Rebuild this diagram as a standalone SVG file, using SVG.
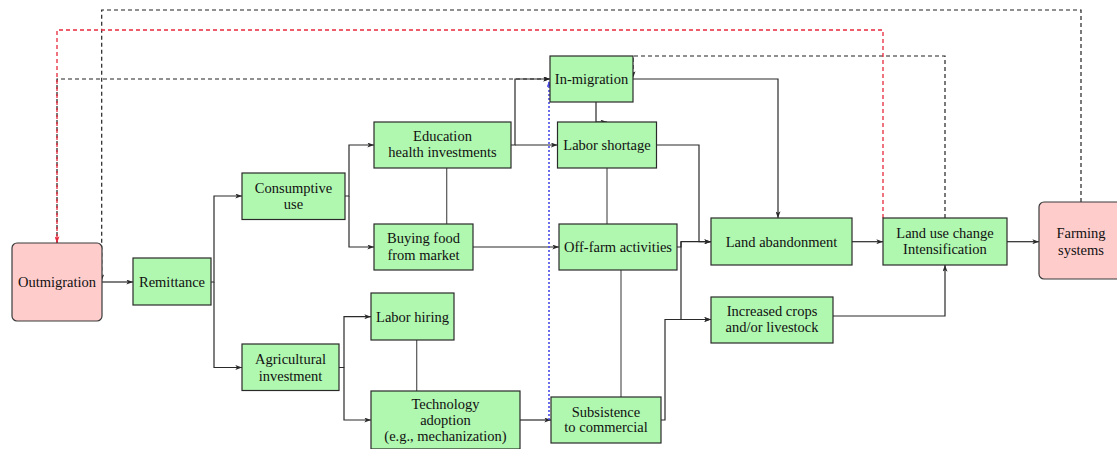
<svg xmlns="http://www.w3.org/2000/svg" width="1117" height="449" viewBox="0 0 1117 449">
<style>
.g rect{fill:#b0f7b0;stroke:#2a2a2a;stroke-width:1.2}
.p rect{fill:#ffcccc;stroke:#3a3a3a;stroke-width:1.2}
text{font-family:"Liberation Serif","DejaVu Serif",serif;font-size:14.5px;fill:#111;text-anchor:middle}
.c path{fill:none;stroke:#2a2a2a;stroke-width:1.2}
.c path.a{marker-end:url(#arr)}
.c path.pl{stroke:#555}
.c path.dk{stroke:#222;stroke-dasharray:4 3;marker-end:url(#arrk)}
.c path.rd{stroke:#e8283c;stroke-width:1.3;stroke-dasharray:4 3;marker-end:url(#arrr)}
.c path.bl{stroke:#4a4ae8;stroke-width:1.6;stroke-dasharray:2 2;marker-end:url(#arrb)}
</style>
<defs>
<marker id="arr" viewBox="0 0 8 6" refX="8" refY="3" markerWidth="7" markerHeight="5" markerUnits="userSpaceOnUse" orient="auto"><path d="M0,0 L8,3 L0,6 L2,3 z" fill="#2a2a2a"/></marker>
<marker id="arrk" viewBox="0 0 8 6" refX="8" refY="3" markerWidth="7" markerHeight="5" markerUnits="userSpaceOnUse" orient="auto"><path d="M0,0 L8,3 L0,6 L2,3 z" fill="#222"/></marker>
<marker id="arrr" viewBox="0 0 8 6" refX="8" refY="3" markerWidth="7" markerHeight="5" markerUnits="userSpaceOnUse" orient="auto"><path d="M0,0 L8,3 L0,6 L2,3 z" fill="#e8283c"/></marker>
<marker id="arrb" viewBox="0 0 8 6" refX="8" refY="3" markerWidth="7" markerHeight="5" markerUnits="userSpaceOnUse" orient="auto"><path d="M0,0 L8,3 L0,6 L2,3 z" fill="#4a4ae8"/></marker>
</defs>
<rect width="1117" height="449" fill="#ffffff"/>

<g class="c" id="connectors">
<path class="a" d="M102,282 H133"/>
<path class="a" d="M211,282 H214 V196 H242"/>
<path class="a" d="M214,282 V367.5 H242"/>
<path class="a" d="M345,196 H349 V145 H374"/>
<path class="a" d="M349,196 V247 H374"/>
<path class="a" d="M339,367.5 H344 V316.7 H371"/>
<path class="a" d="M344,367.5 V420 H371"/>
<path class="a" d="M511,145 H515 V79 H550"/>
<path class="a" d="M515,145 H557.5"/>
<path class="a" d="M473,247 H559"/>
<path class="a" d="M520,420 H551"/>
<path class="a" d="M596,102 V122 H607"/>
<path class="a" d="M633,79 H778 V218"/>
<path class="a" d="M656.5,145 H699 V241.7 H711"/>
<path class="a" d="M677,247 H681 V241.7 H711"/>
<path class="a" d="M681,241.7 V319.5 H711"/>
<path class="a" d="M661,420 H665 V319.5 H711"/>
<path class="a" d="M852,241.7 H883"/>
<path class="a" d="M833,316 H945 V265"/>
<path class="a" d="M1007,241.7 H1039"/>
<path class="pl" d="M446.7,168 V224"/>
<path class="pl" d="M416.7,340 V391"/>
<path class="pl" d="M607,168 V224"/>
<path class="pl" d="M621,270 V397"/>
<path class="dk" d="M1081,202 V10 H101.7 V281"/>
<path class="dk" d="M945,218 V56 H633 V78"/>
<path class="dk" d="M57,243 V79 H550"/>
<path class="rd" d="M883,218 V30 H57 V243"/>
<path class="bl" d="M549,420 V81"/>
</g>

<g id="outmigration" class="p"><rect x="12" y="243" width="90" height="78" rx="5"/><text x="57" y="287">Outmigration</text></g>
<g id="remittance" class="g"><rect x="133" y="258" width="78" height="47"/><text x="172" y="287">Remittance</text></g>
<g id="consumptive" class="g"><rect x="242" y="173" width="103" height="46.5"/><text x="293.5" y="193">Consumptive</text><text x="293.5" y="209">use</text></g>
<g id="agricultural" class="g"><rect x="242" y="344" width="97" height="46.5"/><text x="290.5" y="364">Agricultural</text><text x="290.5" y="380.5">investment</text></g>
<g id="education" class="g"><rect x="374" y="122" width="137" height="46"/><text x="442.5" y="141">Education</text><text x="442.5" y="157.3">health investments</text></g>
<g id="buyingfood" class="g"><rect x="374" y="224" width="99" height="46"/><text x="423.5" y="243.3">Buying food</text><text x="423.5" y="260">from market</text></g>
<g id="laborhiring" class="g"><rect x="371" y="293" width="83" height="47"/><text x="412.5" y="321.7">Labor hiring</text></g>
<g id="technology" class="g"><rect x="371" y="391" width="149" height="58"/><text x="445.5" y="409">Technology</text><text x="445.5" y="425">adoption</text><text x="445.5" y="441">(e.g., mechanization)</text></g>
<g id="inmigration" class="g"><rect x="550" y="56" width="83" height="46"/><text x="591.5" y="84">In-migration</text></g>
<g id="laborshortage" class="g"><rect x="557.5" y="122" width="99" height="46"/><text x="607" y="150">Labor shortage</text></g>
<g id="offfarm" class="g"><rect x="559" y="224" width="118" height="46"/><text x="618" y="252">Off-farm activities</text></g>
<g id="subsistence" class="g"><rect x="551" y="397" width="110" height="46"/><text x="606" y="416.7">Subsistence</text><text x="606" y="431.7">to commercial</text></g>
<g id="landabandonment" class="g"><rect x="711" y="218" width="141" height="47"/><text x="781.5" y="246.7">Land abandonment</text></g>
<g id="increasedcrops" class="g"><rect x="711" y="297" width="122" height="46"/><text x="772" y="315.7">Increased crops</text><text x="772" y="331.7">and/or livestock</text></g>
<g id="landuse" class="g"><rect x="883" y="218" width="124" height="47"/><text x="945" y="238.3">Land use change</text><text x="945" y="254">Intensification</text></g>
<g id="farming" class="p"><rect x="1039" y="202" width="84" height="77" rx="5"/><text x="1081" y="238.3">Farming</text><text x="1081" y="255">systems</text></g>
</svg>
